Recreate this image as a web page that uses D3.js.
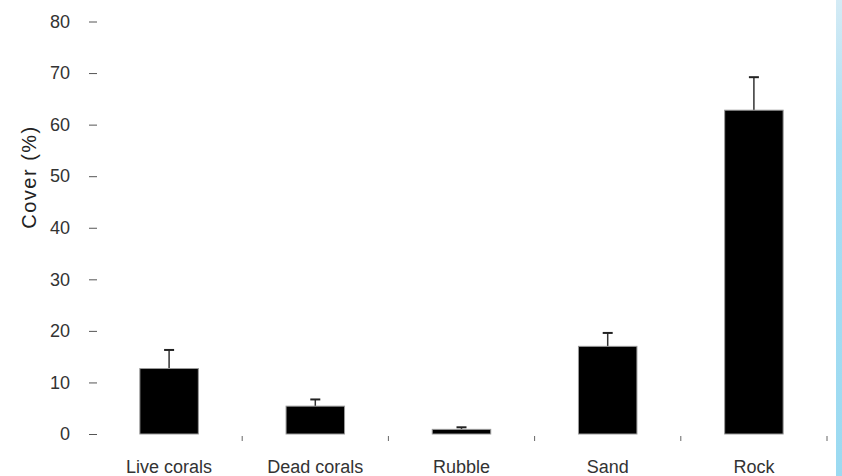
<!DOCTYPE html>
<html>
<head>
<meta charset="utf-8">
<script src="https://cdn.jsdelivr.net/npm/d3@7"></script>
<style>
  body { margin: 0; background: #fff; }
  svg { display: block; }
</style>
</head>
<body>
<div id="chart"></div>
<script>
var categories = ["Live corals", "Dead corals", "Rubble", "Sand", "Rock"];
var cover = [12.7, 5.4, 0.9, 17.0, 62.8];
var coverErr = [3.6, 1.3, 0.4, 2.6, 6.4];
var yTicks = [0, 10, 20, 30, 40, 50, 60, 70, 80];

var width = 842, height = 476;
var font = "'Liberation Sans', Arial, sans-serif";

var svg = d3.select("#chart").append("svg")
    .attr("width", width)
    .attr("height", height);

// light blue strip along right edge
var grad = svg.append("defs").append("linearGradient")
    .attr("id", "strip").attr("x1", 0).attr("y1", 0).attr("x2", 0).attr("y2", 1);
grad.append("stop").attr("offset", "0%").attr("stop-color", "#d4ebf5");
grad.append("stop").attr("offset", "30%").attr("stop-color", "#a9def3");
grad.append("stop").attr("offset", "100%").attr("stop-color", "#9bdaf1");
svg.append("rect")
    .attr("x", 836).attr("y", 0)
    .attr("width", 6).attr("height", height)
    .attr("fill", "url(#strip)");

var x = d3.scaleBand()
    .domain(categories)
    .range([96, 827])
    .paddingInner(0.6)
    .paddingOuter(0.3);

var y = d3.scaleLinear()
    .domain([0, 80])
    .range([434, 21.5]);

// y axis: labels and short dashes, no axis line
var yAxis = svg.append("g")
    .attr("transform", "translate(97,0)")
    .call(d3.axisLeft(y).tickValues(yTicks).tickSize(8).tickPadding(19));
yAxis.select(".domain").remove();
yAxis.selectAll("line").attr("stroke", "#555").attr("stroke-width", 1);
yAxis.selectAll("text")
    .attr("font-family", font)
    .attr("font-size", 18)
    .attr("fill", "#333");

svg.append("text")
    .attr("transform", "translate(36," + 177 + ") rotate(-90)")
    .attr("text-anchor", "middle")
    .attr("font-family", font)
    .attr("font-size", 20)
    .attr("letter-spacing", 1.5)
    .attr("fill", "#222")
    .text("Cover (%)");

// small separator ticks between categories
var step = x.step();
svg.append("g").selectAll("line")
    .data(categories)
    .join("line")
    .attr("x1", function(d) { return x(d) + x.bandwidth() / 2 + step / 2; })
    .attr("x2", function(d) { return x(d) + x.bandwidth() / 2 + step / 2; })
    .attr("y1", 436)
    .attr("y2", 441)
    .attr("stroke", "#666")
    .attr("stroke-width", 1);

// category labels
svg.append("g").selectAll("text")
    .data(categories)
    .join("text")
    .attr("x", function(d) { return x(d) + x.bandwidth() / 2; })
    .attr("y", 473)
    .attr("text-anchor", "middle")
    .attr("font-family", font)
    .attr("font-size", 18)
    .attr("fill", "#333")
    .text(function(d) { return d; });

// error bars (upper only)
var eb = svg.append("g").selectAll("g")
    .data(categories)
    .join("g");
eb.append("line")
    .attr("x1", function(d) { return x(d) + x.bandwidth() / 2; })
    .attr("x2", function(d) { return x(d) + x.bandwidth() / 2; })
    .attr("y1", function(d, i) { return y(cover[i]); })
    .attr("y2", function(d, i) { return y(cover[i] + coverErr[i]); })
    .attr("stroke", "#333")
    .attr("stroke-width", 1.5);
eb.append("line")
    .attr("x1", function(d) { return x(d) + x.bandwidth() / 2 - 5; })
    .attr("x2", function(d) { return x(d) + x.bandwidth() / 2 + 5; })
    .attr("y1", function(d, i) { return y(cover[i] + coverErr[i]); })
    .attr("y2", function(d, i) { return y(cover[i] + coverErr[i]); })
    .attr("stroke", "#222")
    .attr("stroke-width", 2);

// bars
svg.append("g").selectAll("rect")
    .data(categories)
    .join("rect")
    .attr("x", function(d) { return x(d); })
    .attr("y", function(d, i) { return y(cover[i]); })
    .attr("width", x.bandwidth())
    .attr("height", function(d, i) { return y(0) - y(cover[i]); })
    .attr("fill", "#000")
    .attr("stroke", "#999")
    .attr("stroke-width", 1);
</script>
</body>
</html>
